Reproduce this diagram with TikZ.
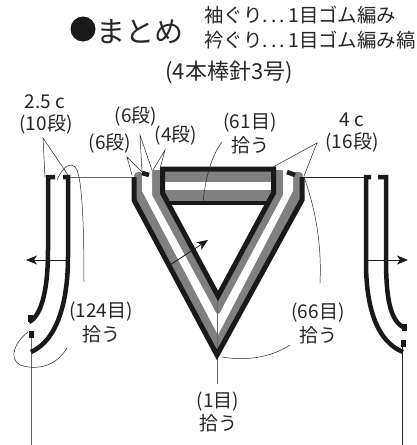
\documentclass[tikz,border=0pt]{standalone}
\usepackage{fontspec}
\setmainfont{Noto Sans CJK JP}
\usetikzlibrary{arrows.meta}
\definecolor{bandgray}{gray}{0.5}
\tikzset{
  edgeline/.style={line width=4.5pt,black!90},
  neckline/.style={line width=5pt,black!90,line join=miter},
  noteline/.style={line width=0.5pt,black!85},
  seamline/.style={line width=0.9pt,black!60},
  moveline/.style={line width=0.8pt,black!90,-{Stealth[length=11pt,width=9pt,inset=3pt]}},
  note/.style={inner sep=0pt,font=\fontsize{19}{19}\selectfont,black!85},
  head/.style={inner sep=0pt,font=\fontsize{19.4}{19.4}\selectfont,black!85}
}

\begin{document}
\begin{tikzpicture}[x=1pt,y=-1pt]
\useasboundingbox (0,0) rectangle (416,445);

% title
\fill [black!90] (83,29) circle [radius=12.5];
\node [anchor=west,inner sep=0pt,font=\fontsize{29}{29}\selectfont,black!85] (title) at (96,32) {まとめ};
\node [head,anchor=west] (sleevenote) at (204,15) {袖ぐり.\,.\,.\,1目ゴム編み};
\node [head,anchor=west] (necknote) at (204,40) {衿ぐり.\,.\,.\,1目ゴム編み縞};
\node [inner sep=0pt,font=\fontsize{22}{22}\selectfont,black!85] (needle) at (229,72) {(4本棒針3号)};

% left piece
\draw [seamline] (70,177) -- (132,177);
\draw [seamline] (31,338) -- (31,445);
\draw [edgeline] (55,177) -- (48,177) -- (48,250) .. controls (48,285) and (43,315) .. (29,322);
\draw [edgeline] (63,177) -- (68,177) -- (68,257) .. controls (68,300) and (58,340) .. (31,352);
\draw [line width=5pt,black!90] (30,315) -- (30,322);
\draw [line width=5pt,black!90] (31,331) -- (31,338);
\draw [moveline] (68,260) -- (26,260);

% right piece
\draw [noteline] (304,177) -- (366,177);
\draw [noteline,line width=0.8pt] (402,340) -- (402,445);
\draw [edgeline] (371,177) -- (366,177) -- (366,262) .. controls (366,310) and (378,342) .. (403,352);
\draw [edgeline] (378,177) -- (386,177) -- (386,258) .. controls (386,298) and (390,322) .. (405,328);
\draw [line width=5pt,black!90] (404.5,324) -- (404.5,331);
\draw [line width=5pt,black!90] (403.5,340) -- (403.5,347);
\draw [moveline] (366,260) -- (408,260);

% neck band
\fill [bandgray,rounded corners=1.5pt] (134,174) -- (137,172) -- (142,172) -- (142,200) -- (134,200) -- cycle;
\fill [bandgray,rounded corners=1.5pt] (293,172) -- (300,172) -- (303,174) -- (303,200) -- (293,200) -- cycle;
\fill [bandgray] (134,200) -- (142,191) -- (152,170) -- (283,170) -- (293,191) -- (303,200) -- (217,358) -- cycle;
\fill [white] (142,165) -- (142,191) -- (218,335) -- (293,191) -- (293,165) -- (283,165) -- (283,195)
  -- (224,305) [rounded corners=6pt] -- (218,317) -- (212,305) [sharp corners] -- (152,195) -- (152,165) -- cycle;
\fill [bandgray] (162,171) rectangle (273,201);
\fill [white] (162,182) rectangle (273,190);
\fill [white] (169,205) -- (267,205) -- (218,296) -- cycle;
\draw [seamline,line width=0.7pt] (217.5,298) -- (217.5,384);
\draw [neckline] (134,177) -- (134,200) -- (217,355) -- (302,200) -- (302,177);
\draw [neckline] (162.5,169) -- (273.5,169) -- (273.5,193) -- (218,296) -- (162.5,193) -- cycle;
\draw [edgeline] (167,203) -- (268,203);
\draw [edgeline] (142,173) -- (149,175);
\draw [edgeline] (287,172) -- (295,175);
\draw [moveline] (170,265) -- (208,240);

% notes
\node [note] (rowleft) at (45,102) {2.5 c};
\node [note] (rowleftb) at (46,124) {(10段)};
\node [note] (sixa) at (110,143) {(6段)};
\node [note] (sixb) at (136,116) {(6段)};
\node [note] (four) at (176,135) {(4段)};
\node [note] (pick) at (250,123) {(61目)};
\node [note] (pickb) at (250,145) {拾う};
\node [note] (rowright) at (352,120) {4 c};
\node [note] (rowrightb) at (352,142) {(16段)};
\node [note] (armpick) at (101,312) {(124目)};
\node [note] (armpickb) at (101,334) {拾う};
\node [note] (vpick) at (318,313) {(66目)};
\node [note] (vpickb) at (318,335) {拾う};
\node [note] (tip) at (218,402) {(1目)};
\node [note] (tipb) at (218,423) {拾う};

% note lines
\draw [noteline] (45,177) -- (43,138) -- (68,175);
\draw [noteline] (57,180) .. controls (63,166) and (72,160) .. (77,170) .. controls (83,185) and (84,240) .. (84,282);
\draw [noteline] (28,332) .. controls (15,342) and (8,358) .. (20,365) .. controls (35,370) and (55,368) .. (67,348);
\draw [noteline] (132,175) -- (127,157) -- (142,172);
\draw [noteline] (142,172) -- (140,135) -- (152,170);
\draw [noteline] (153,170) -- (165,150) -- (160,169);
\draw [noteline] (222,142) .. controls (212,155) and (206,175) .. (203,202);
\draw [noteline] (273,167) -- (317,143) -- (304,176);
\draw [noteline] (304,177) .. controls (314,205) and (322,240) .. (320,283);
\draw [noteline] (222,357) .. controls (245,361) and (270,358) .. (290,345);
\end{tikzpicture}
\end{document}
